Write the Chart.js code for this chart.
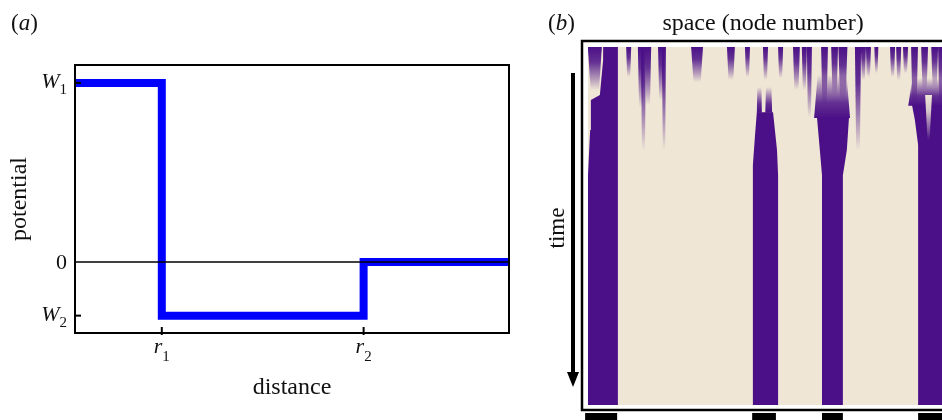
<!DOCTYPE html>
<html lang="en">
<head>
<meta charset="utf-8">
<title>Step potential and node pattern</title>
<script src="https://cdn.jsdelivr.net/npm/chart.js@4.4.1/dist/chart.umd.min.js"></script>
<style>
  html, body { margin: 0; padding: 0; background: #ffffff; }
  body { position: relative; width: 942px; height: 420px; overflow: hidden; }
  #panel-a { position: absolute; left: 0; top: 0; width: 540px; height: 420px; }
  /* panel (b) is cropped on the right, like the figure */
  #panel-b { position: absolute; left: 540px; top: 0; width: 402px; height: 420px; overflow: hidden; }
</style>
</head>
<body>
<div id="panel-a"><canvas id="potential-chart" width="540" height="420"></canvas></div>
<div id="panel-b"><canvas id="space-chart" width="460" height="420"></canvas></div>
<script>
// ---------- (a) step potential ----------
const r1 = 2.0;
const r2 = 6.65;
const w1 = 1.0;
const w2 = -0.30;
const distanceRange = [0, 10];
const potentialRange = [-0.397, 1.10];
const distance = [0, r1, r1, r2, r2, 10];
const potential = [w1, w1, w2, w2, 0, 0];
const yTickValues = [w1, 0, w2];
const yTickNames = ['W', '0', 'W'];
const yTickSubs = ['1', '', '2'];
const xTickValues = [r1, r2];
const xTickNames = ['r', 'r'];
const xTickSubs = ['1', '2'];

// ---------- (b) node pattern: node number vs time (0 = top, 100 = bottom) ----------
const nodeRange = [0, 100];
const timeRange = [0, 100];

// solid stripes (outline points)
const stripe1Nodes = [4.2, 8.3, 8.3, 0, 0, 0.6, 0.8, 3.3, 4.2];
const stripe1Times = [0, 0, 100, 100, 35.8, 23.2, 14.8, 13.4, 3.6];
const stripe2Nodes = [46.9, 51.4, 52.5, 52.8, 52.8, 45.8, 45.8, 46.4];
const stripe2Times = [18.2, 18.2, 28.8, 35.8, 100, 100, 33.0, 24.6];
const stripe3Nodes = [63.6, 72.5, 71.9, 70.8, 70.8, 65.0, 65.0, 64.4];
const stripe3Times = [19.6, 19.6, 28.8, 35.8, 100, 100, 35.8, 28.8];
const stripe4Nodes = [90.0, 103.3, 103.3, 91.7, 91.7, 90.8];
const stripe4Times = [16.2, 16.2, 100, 100, 27.4, 20.4];

// early streaks hanging from the top, fading out
const wispNode = [1.9, 11.3, 14.7, 16.7, 15.4, 20.3, 21.1, 30.3, 39.7, 44.3, 49.3, 53.5, 57.9, 60.1, 61.5,
                  65.7, 68.5, 70.8, 75.0, 76.5, 77.9, 80.1, 84.6, 86.3, 88.2, 90.7, 93.5, 96.3, 98.1];
const wispWidth = [3.9, 1.4, 1.7, 1.7, 1.4, 1.7, 1.1, 3.3, 2.2, 1.4, 1.4, 1.4, 1.9, 1.4, 1.4,
                   1.9, 1.9, 2.5, 1.7, 1.4, 1.4, 1.1, 1.4, 1.4, 1.4, 1.9, 1.9, 1.9, 1.7];
const wispEnd = [12.0, 8.4, 16.8, 16.2, 28.8, 14.8, 28.8, 9.8, 9.2, 8.4, 9.2, 8.7, 12.0, 12.0, 19.6,
                 16.8, 13.4, 14.8, 28.8, 9.2, 8.4, 7.3, 8.4, 9.2, 7.3, 16.8, 12.0, 11.2, 16.8];

// soft edges above the stripes, fading upwards
const fringeNode = [47.6, 50.2, 67.8, 94.8];
const fringeWidth = [1.4, 1.9, 10.0, 11.7];
const fringeTop = [11.2, 11.2, 7.8, 8.7];
const fringeBottom = [18.4, 18.4, 19.8, 16.4];

// light streak inside the right stripe
const gapNode = [94.6];
const gapWidth = [1.9];
const gapTop = [13.4];
const gapBottom = [26.0];

// final-state markers under the frame
const markerStart = [-0.8, 45.6, 65.0, 91.7];
const markerEnd = [8.1, 52.2, 70.8, 100.6];
const markerTime = 103.9;

const PURPLE = [75, 16, 135];
const BEIGE = [239, 230, 213];
const SERIF = '"Liberation Serif", "Times New Roman", serif';

function rgba(c, a) { return `rgba(${c[0]},${c[1]},${c[2]},${a})`; }

// draws a label made of pieces (e.g. italic W + subscript 1)
function drawParts(ctx, parts, x, baseline, align) {
    let total = 0;
    parts.forEach(p => { ctx.font = p.font; p.w = ctx.measureText(p.text).width; total += p.w; });
    let cx = align === 'right' ? x - total : (align === 'center' ? x - total / 2 : x);
    ctx.textAlign = 'left';
    ctx.textBaseline = 'alphabetic';
    parts.forEach(p => {
        ctx.font = p.font;
        ctx.fillText(p.text, cx, baseline + (p.dy || 0));
        cx += p.w;
    });
}

// ---------- chart (a) ----------
const potentialDecor = {
    id: 'potentialDecor',
    afterDatasetsDraw(chart) {
        const { ctx, chartArea: a, scales } = chart;
        const y0 = scales.y.getPixelForValue(0);
        ctx.save();
        ctx.strokeStyle = '#000';
        ctx.lineWidth = 1.6;
        ctx.beginPath();
        ctx.moveTo(a.left, y0);
        ctx.lineTo(a.right, y0);
        ctx.stroke();
        ctx.restore();
    },
    afterDraw(chart) {
        const { ctx, chartArea: a, scales } = chart;
        ctx.save();
        ctx.strokeStyle = '#000';
        ctx.fillStyle = '#111';
        ctx.lineWidth = 2;
        ctx.strokeRect(a.left, a.top, a.right - a.left, a.bottom - a.top);

        // y ticks (inward) and labels
        yTickValues.forEach((v, i) => {
            const py = scales.y.getPixelForValue(v);
            if (v !== 0) {
                ctx.beginPath();
                ctx.moveTo(a.left, py);
                ctx.lineTo(a.left + 6, py);
                ctx.stroke();
            }
            if (yTickSubs[i]) {
                drawParts(ctx, [
                    { text: yTickNames[i], font: `italic 22px ${SERIF}` },
                    { text: yTickSubs[i], font: `15px ${SERIF}`, dy: 6 }
                ], a.left - 8, py + 5, 'right');
            } else {
                drawParts(ctx, [{ text: yTickNames[i], font: `22px ${SERIF}` }], a.left - 8, py + 7, 'right');
            }
        });

        // x ticks and labels
        xTickValues.forEach((v, i) => {
            const px = scales.x.getPixelForValue(v);
            ctx.beginPath();
            ctx.moveTo(px, a.bottom + 2);
            ctx.lineTo(px, a.bottom - 6);
            ctx.stroke();
            drawParts(ctx, [
                { text: xTickNames[i], font: `italic 22px ${SERIF}` },
                { text: xTickSubs[i], font: `15px ${SERIF}`, dy: 8 }
            ], px, a.bottom + 20, 'center');
        });

        // axis titles
        ctx.font = `24px ${SERIF}`;
        ctx.textAlign = 'center';
        ctx.textBaseline = 'alphabetic';
        ctx.fillText('distance', (a.left + a.right) / 2, 394);
        ctx.save();
        ctx.translate(20, 199);
        ctx.rotate(-Math.PI / 2);
        ctx.textBaseline = 'middle';
        ctx.fillText('potential', 0, 0);
        ctx.restore();

        drawParts(ctx, [
            { text: '(', font: `23px ${SERIF}` },
            { text: 'a', font: `italic 23px ${SERIF}` },
            { text: ')', font: `23px ${SERIF}` }
        ], 11, 30, 'left');
        ctx.restore();
    }
};

new Chart(document.getElementById('potential-chart'), {
    type: 'line',
    data: {
        datasets: [{
            label: 'potential',
            data: distance.map((d, i) => ({ x: d, y: potential[i] })),
            borderColor: '#0000ff',
            borderWidth: 8,
            borderJoinStyle: 'miter',
            borderCapStyle: 'butt',
            pointRadius: 0,
            tension: 0,
            fill: false
        }]
    },
    options: {
        responsive: false,
        animation: false,
        devicePixelRatio: 1,
        layout: { padding: { left: 75, right: 31, top: 65, bottom: 87 } },
        plugins: { legend: { display: false }, tooltip: { enabled: false } },
        scales: {
            x: { type: 'linear', min: distanceRange[0], max: distanceRange[1], display: false },
            y: { type: 'linear', min: potentialRange[0], max: potentialRange[1], display: false }
        }
    },
    plugins: [potentialDecor]
});

// ---------- chart (b) ----------
function fadeFill(color) {
    return context => {
        const chart = context.chart;
        const ds = context.dataset;
        if (!chart.chartArea) return rgba(color, 1);
        const p0 = chart.scales.y.getPixelForValue(ds.fadeFrom);
        const p1 = chart.scales.y.getPixelForValue(ds.fadeTo);
        if (!isFinite(p0) || !isFinite(p1) || p0 === p1) return rgba(color, 1);
        const g = chart.ctx.createLinearGradient(0, p0, 0, p1);
        g.addColorStop(0, rgba(color, 1));
        g.addColorStop(0.35, rgba(color, 0.85));
        g.addColorStop(0.75, rgba(color, 0.35));
        g.addColorStop(1, rgba(color, 0));
        return g;
    };
}

function shapeSet(points, fillColor, order, extra) {
    return Object.assign({
        data: points,
        backgroundColor: fillColor,
        borderWidth: 0,
        pointRadius: 0,
        tension: 0,
        fill: 'shape',
        order: order
    }, extra || {});
}

const spaceSets = [];
[[stripe1Nodes, stripe1Times], [stripe2Nodes, stripe2Times],
 [stripe3Nodes, stripe3Times], [stripe4Nodes, stripe4Times]].forEach(([nodes, times]) => {
    spaceSets.push(shapeSet(nodes.map((n, i) => ({ x: n, y: times[i] })), rgba(PURPLE, 1), 4));
});
fringeNode.forEach((n, i) => {
    const h = fringeWidth[i] / 2;
    spaceSets.push(shapeSet([
        { x: n - h * 0.8, y: fringeTop[i] }, { x: n + h * 0.8, y: fringeTop[i] },
        { x: n + h, y: fringeBottom[i] }, { x: n - h, y: fringeBottom[i] }
    ], fadeFill(PURPLE), 3, { fadeFrom: fringeBottom[i], fadeTo: fringeTop[i] }));
});
wispNode.forEach((n, i) => {
    const h = wispWidth[i] / 2;
    spaceSets.push(shapeSet([
        { x: n - h, y: 0 }, { x: n + h, y: 0 },
        { x: n + h * 0.6, y: wispEnd[i] }, { x: n - h * 0.6, y: wispEnd[i] }
    ], fadeFill(PURPLE), 2, { fadeFrom: 0, fadeTo: wispEnd[i] }));
});
gapNode.forEach((n, i) => {
    const h = gapWidth[i] / 2;
    spaceSets.push(shapeSet([
        { x: n - h, y: gapTop[i] }, { x: n + h, y: gapTop[i] },
        { x: n + h * 0.3, y: gapBottom[i] }, { x: n - h * 0.3, y: gapBottom[i] }
    ], fadeFill(BEIGE), 1, { fadeFrom: gapTop[i], fadeTo: gapBottom[i] }));
});
markerStart.forEach((s, i) => {
    spaceSets.push({
        data: [{ x: s, y: markerTime }, { x: markerEnd[i], y: markerTime }],
        borderColor: '#000',
        borderWidth: 12,
        borderCapStyle: 'butt',
        pointRadius: 0,
        fill: false,
        clip: false,
        order: 0
    });
});

const spaceDecor = {
    id: 'spaceDecor',
    beforeDraw(chart) {
        const { ctx, chartArea: a } = chart;
        ctx.save();
        ctx.fillStyle = rgba(BEIGE, 1);
        ctx.fillRect(a.left, a.top, a.right - a.left, a.bottom - a.top);
        ctx.restore();
    },
    afterDraw(chart) {
        const { ctx, chartArea: a } = chart;
        ctx.save();
        ctx.strokeStyle = '#000';
        ctx.fillStyle = '#000';
        ctx.lineWidth = 2.5;
        ctx.strokeRect(a.left - 6, a.top - 6, a.right - a.left + 12, a.bottom - a.top + 11);

        // time arrow
        const ax = a.left - 15;
        ctx.lineWidth = 4;
        ctx.beginPath();
        ctx.moveTo(ax, a.top + 26);
        ctx.lineTo(ax, a.bottom - 32);
        ctx.stroke();
        ctx.beginPath();
        ctx.moveTo(ax - 6, a.bottom - 33);
        ctx.lineTo(ax + 6, a.bottom - 33);
        ctx.lineTo(ax, a.bottom - 18);
        ctx.closePath();
        ctx.fill();

        ctx.fillStyle = '#111';
        ctx.font = `24px ${SERIF}`;
        ctx.textAlign = 'center';
        ctx.textBaseline = 'alphabetic';
        ctx.fillText('space (node number)', 223, 30);
        ctx.save();
        ctx.font = `23px ${SERIF}`;
        ctx.translate(17.5, 228);
        ctx.rotate(-Math.PI / 2);
        ctx.textBaseline = 'middle';
        ctx.fillText('time', 0, 0);
        ctx.restore();

        drawParts(ctx, [
            { text: '(', font: `23px ${SERIF}` },
            { text: 'b', font: `italic 23px ${SERIF}` },
            { text: ')', font: `23px ${SERIF}` }
        ], 8, 30, 'left');
        ctx.restore();
    }
};

new Chart(document.getElementById('space-chart'), {
    type: 'line',
    data: { datasets: spaceSets },
    options: {
        responsive: false,
        animation: false,
        devicePixelRatio: 1,
        layout: { padding: { left: 48, right: 52, top: 47, bottom: 15 } },
        plugins: { legend: { display: false }, tooltip: { enabled: false } },
        scales: {
            x: { type: 'linear', min: nodeRange[0], max: nodeRange[1], display: false },
            y: { type: 'linear', min: timeRange[0], max: timeRange[1], reverse: true, display: false }
        }
    },
    plugins: [spaceDecor]
});
</script>
</body>
</html>
